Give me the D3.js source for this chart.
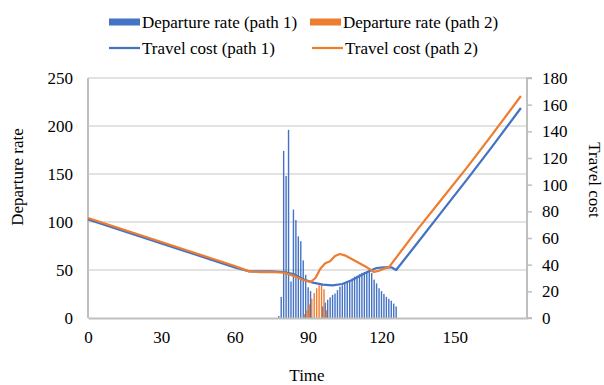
<!DOCTYPE html>
<html>
<head>
<meta charset="utf-8">
<script src="https://cdn.jsdelivr.net/npm/d3@7"></script>
<style>
  body { margin: 0; background: #fff; }
  svg text { font-family: "Liberation Serif", "Tinos", "DejaVu Serif", serif; fill: #000; font-size: 17px; }
</style>
</head>
<body>
<div id="chart"></div>
<script>
// departure rates (left axis), one bar per time unit
const depTime1 = [78, 79, 80, 81, 82, 83, 84, 85, 86, 87, 88, 89, 90, 91,
  96, 97, 98, 99, 100, 101, 102, 103, 104, 105, 106, 107, 108, 109, 110,
  111, 112, 113, 114, 115, 116, 117, 118, 119, 120, 121, 122, 123, 124, 125, 126];
const depRate1 = [2, 22, 174, 148, 196, 38, 113, 102, 85, 80, 60, 45, 32, 28,
  12, 16, 19, 21.5, 24, 25.5, 29, 32.6, 34, 36, 37, 39, 41, 43, 44,
  45.5, 47, 48, 49, 50, 47, 40, 36, 31, 28, 25, 22, 20, 18, 15, 12];
const depTime2 = [88, 89, 90, 91, 92, 93, 94, 95, 96, 97];
const depRate2 = [4, 8, 14, 20, 26, 31, 34, 35, 30, 8];

// travel cost (right axis)
const costTime1 = [0, 10, 20, 30, 40, 50, 60, 66, 70, 75, 80, 84, 88, 92, 96, 100,
  104, 108, 112, 116, 118, 121, 124, 126, 135, 145, 155, 165, 177];
const cost1 = [74, 68, 62, 56, 50, 44, 38, 35, 35, 35, 34.5, 33, 29, 26.5, 25, 24.5,
  25.5, 28.5, 32.5, 36, 37.5, 38, 38, 36, 57, 80.5, 104, 128, 157.5];
const costTime2 = [0, 10, 20, 30, 40, 50, 60, 66, 70, 75, 80, 85, 88, 91, 93, 95, 97,
  99, 101, 103, 105, 108, 111, 114, 117, 119, 121, 123, 135, 145, 155, 165, 177];
const cost2 = [75, 69, 63, 57, 51, 45, 39, 35, 34.5, 34.5, 34, 31, 28.5, 27, 30, 37, 41,
  42.5, 46.5, 48, 47, 44, 41, 38, 34.5, 35.5, 37, 38, 67, 90, 113, 137, 166.5];

const xTicks = [0, 30, 60, 90, 120, 150];
const yLeftTicks = [0, 50, 100, 150, 200, 250];
const yRightTicks = [0, 20, 40, 60, 80, 100, 120, 140, 160, 180];

const blue = "#4472C4", orange = "#ED7D31";
const W = 604, H = 385;
const plot = { left: 88, right: 527, top: 78, bottom: 318 };

const svg = d3.select("#chart").append("svg")
  .attr("width", W).attr("height", H);

const x = d3.scaleLinear().domain([0, 179.5]).range([plot.left, plot.right]);
const yL = d3.scaleLinear().domain([0, 250]).range([plot.bottom, plot.top]);
const yR = d3.scaleLinear().domain([0, 180]).range([plot.bottom, plot.top]);

// gridlines
svg.append("g")
  .selectAll("line")
  .data(yLeftTicks.slice(1))
  .enter().append("line")
  .attr("x1", plot.left).attr("x2", plot.right)
  .attr("y1", d => yL(d)).attr("y2", d => yL(d))
  .attr("stroke", "#d9d9d9").attr("stroke-width", 1.3);

// bars
const bw = 1.4;
svg.append("g").selectAll("rect")
  .data(depTime1.map((t, i) => [t, depRate1[i]]))
  .enter().append("rect")
  .attr("x", d => x(d[0]) - bw / 2)
  .attr("y", d => yL(d[1]))
  .attr("width", bw)
  .attr("height", d => yL(0) - yL(d[1]))
  .attr("fill", blue);
svg.append("g").selectAll("rect")
  .data(depTime2.map((t, i) => [t, depRate2[i]]))
  .enter().append("rect")
  .attr("x", d => x(d[0]) - bw / 2 + 1.2)
  .attr("y", d => yL(d[1]))
  .attr("width", bw)
  .attr("height", d => yL(0) - yL(d[1]))
  .attr("fill", orange);

// axes
const axisColor = "#bfbfbf";
const leftAxis = svg.append("g").attr("transform", `translate(${plot.left},0)`)
  .call(d3.axisLeft(yL).tickValues(yLeftTicks).tickSize(0).tickPadding(15));
const rightAxis = svg.append("g").attr("transform", `translate(${plot.right},0)`)
  .call(d3.axisRight(yR).tickValues(yRightTicks).tickSize(5).tickPadding(10));
const bottomAxis = svg.append("g").attr("transform", `translate(0,${plot.bottom})`)
  .call(d3.axisBottom(x).tickValues(xTicks).tickSize(0).tickPadding(13));

[leftAxis, rightAxis, bottomAxis].forEach(a => {
  // drop d3's default sans-serif so the page css applies
  a.attr("font-family", null).attr("font-size", null);
  a.select(".domain").attr("stroke", axisColor).attr("stroke-width", 2);
  a.selectAll(".tick line").attr("stroke", axisColor).attr("stroke-width", 1.5);
});
rightAxis.select(".domain").attr("d", `M5,${plot.top}H0V${plot.bottom}H5`);
leftAxis.select(".domain").attr("d", `M0,${plot.top}V${plot.bottom}`);

// lines
const line = d3.line().x(d => x(d[0])).y(d => yR(d[1]));
svg.append("path")
  .datum(costTime1.map((t, i) => [t, cost1[i]]))
  .attr("d", line).attr("fill", "none")
  .attr("stroke", blue).attr("stroke-width", 2.25).attr("stroke-linejoin", "round");
svg.append("path")
  .datum(costTime2.map((t, i) => [t, cost2[i]]))
  .attr("d", line).attr("fill", "none")
  .attr("stroke", orange).attr("stroke-width", 2.25).attr("stroke-linejoin", "round");

// axis titles
svg.append("text")
  .attr("transform", "translate(23,177) rotate(-90)")
  .attr("text-anchor", "middle")
  .text("Departure rate");
svg.append("text")
  .attr("transform", "translate(589,180) rotate(90)")
  .attr("text-anchor", "middle")
  .text("Travel cost");
svg.append("text")
  .attr("x", 307).attr("y", 381)
  .attr("text-anchor", "middle")
  .text("Time");

// legend
const legend = [
  { label: "Departure rate (path 1)", color: blue, type: "rect", x: 109, y: 22 },
  { label: "Departure rate (path 2)", color: orange, type: "rect", x: 310, y: 22 },
  { label: "Travel cost (path 1)", color: blue, type: "line", x: 109, y: 48 },
  { label: "Travel cost (path 2)", color: orange, type: "line", x: 312, y: 48 }
];
const lg = svg.append("g").selectAll("g").data(legend).enter().append("g")
  .attr("transform", d => `translate(${d.x},${d.y})`);
lg.filter(d => d.type === "rect").append("rect")
  .attr("x", 0).attr("y", -3.5).attr("width", 31).attr("height", 7)
  .attr("fill", d => d.color);
lg.filter(d => d.type === "line").append("line")
  .attr("x1", 0).attr("x2", 31).attr("y1", 0).attr("y2", 0)
  .attr("stroke", d => d.color).attr("stroke-width", 2.25);
lg.append("text")
  .attr("x", 33).attr("dy", "0.35em")
  .text(d => d.label);
</script>
</body>
</html>
